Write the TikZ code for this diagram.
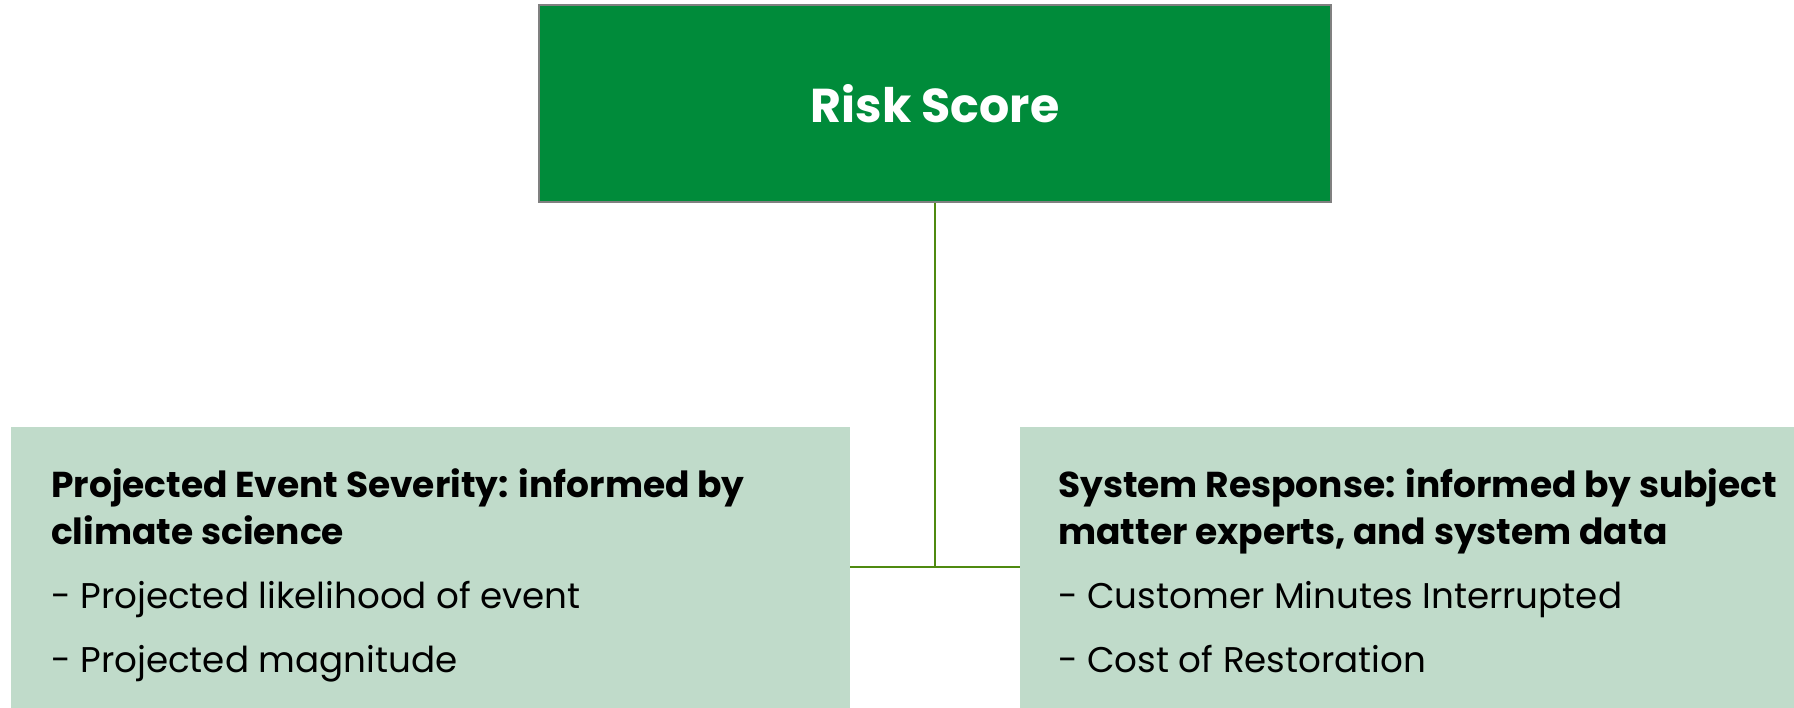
\documentclass[tikz,border=0pt]{standalone}
\usepackage{fontspec}
\setmainfont{Poppins}
\usetikzlibrary{positioning}

\definecolor{scoregreen}{RGB}{0,139,58}
\definecolor{factorgreen}{RGB}{192,219,202}
\definecolor{linkgreen}{RGB}{79,138,16}
\definecolor{edgegray}{RGB}{128,128,128}

\begin{document}
\begin{tikzpicture}[x=1pt,y=-1pt,
    score node/.style={rectangle,draw=edgegray,line width=2pt,fill=scoregreen,text=white,
        minimum width=792pt,minimum height=197pt,inner sep=0pt,
        font=\bfseries\fontsize{47.5}{54}\selectfont},
    factor node/.style={rectangle,fill=factorgreen,anchor=north west,
        inner xsep=40pt,inner ysep=41pt,align=left},
    link/.style={draw=linkgreen,line width=2.6pt}]

    \useasboundingbox (0,0) rectangle (1794,708);

    \node[score node] (score) at (935,104) {Risk Score};

    \node[factor node] (severity) at (11,427) {\parbox[t][199pt][t]{759pt}{\raggedright
        {\bfseries\fontsize{36}{47}\selectfont Projected Event Severity: informed by\\climate science\par}
        \fontsize{35.7}{64}\selectfont
        - Projected likelihood of event\par
        - Projected magnitude}};
    \node[factor node, inner xsep=38pt] (response) at (1020,427) {\parbox[t][199pt][t]{736pt}{\raggedright
        {\bfseries\fontsize{36}{47}\selectfont System Response: informed by subject\\matter experts, and system data\par}
        \fontsize{35.7}{64}\selectfont
        - Customer Minutes Interrupted\par
        - Cost of Restoration}};

    % junction between the two factor boxes
    \coordinate (join) at (935,567);

    \path[link]
        (score.south) -- (join)
        (severity.east |- join) -- (response.west |- join)
    ;
\end{tikzpicture}
\end{document}
